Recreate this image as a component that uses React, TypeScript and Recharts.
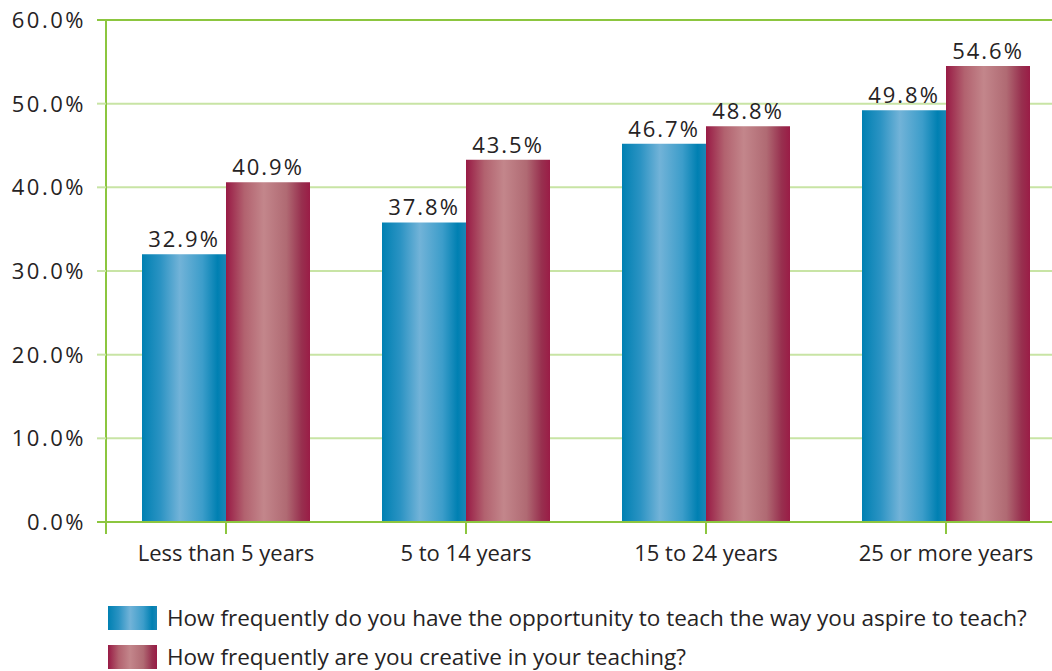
import { Bar, BarChart, CartesianGrid, LabelList, ReferenceLine, XAxis, YAxis } from 'recharts'

const categories = ['Less than 5 years', '5 to 14 years', '15 to 24 years', '25 or more years']
// bar heights as drawn in the picture (the printed labels differ slightly)
const aspireValues = [32.0, 35.8, 45.2, 49.2]
const creativeValues = [40.6, 43.3, 47.3, 54.5]
const aspireLabels = ['32.9%', '37.8%', '46.7%', '49.8%']
const creativeLabels = ['40.9%', '43.5%', '48.8%', '54.6%']
const yTicks = [0, 10, 20, 30, 40, 50, 60]
const seriesNames = [
  'How frequently do you have the opportunity to teach the way you aspire to teach?',
  'How frequently are you creative in your teaching?',
]

const FONT = '"Open Sans", sans-serif'
const TEXT = '#262324'
const DARK_GREEN = '#8cc63f'
const LIGHT_GREEN = '#c8e4a5'

const data = categories.map((c, i) => ({
  name: c,
  aspire: aspireValues[i],
  creative: creativeValues[i],
  aspireLabel: aspireLabels[i],
  creativeLabel: creativeLabels[i],
}))

const blueCss =
  'linear-gradient(to right, #0080b2 0%, #2b93c3 22%, #72b3d8 45%, #3c9dca 72%, #0080b2 90%, #1a86b6 100%)'
const redCss =
  'linear-gradient(to right, #981a45 0%, #b2626f 22%, #c3868b 45%, #b06a73 72%, #98304f 90%, #9a1c46 100%)'

function YTick(props: any) {
  const { x, y, payload } = props
  const v = payload.value as number
  const edge = v === 0 || v === 60
  return (
    <g>
      <line x1={x + 13} x2={x + 22} y1={y} y2={y} stroke={edge ? DARK_GREEN : LIGHT_GREEN} strokeWidth={2} />
      <text
        x={x + 2}
        y={y}
        dy={8}
        textAnchor="end"
        fill={TEXT}
        fontSize={22}
        letterSpacing={2.5}
        fontFamily={FONT}
      >
        {v.toFixed(1)}%
      </text>
    </g>
  )
}

function XTick(props: any) {
  const { x, y, payload, index } = props
  const half = payload?.offset ?? 120
  return (
    <g>
      {index === 0 && (
        <line x1={x - half} x2={x - half} y1={y - 18} y2={y - 6} stroke={DARK_GREEN} strokeWidth={2} />
      )}
      <text x={x} y={y} dy={21} textAnchor="middle" fill={TEXT} fontSize={22} fontFamily={FONT}>
        {payload.value}
      </text>
    </g>
  )
}

export default function App() {
  return (
    <div
      style={{
        position: 'absolute',
        left: 0,
        top: 0,
        width: 1052,
        height: 671,
        overflow: 'hidden',
        background: '#fff',
        fontFamily: FONT,
      }}
    >
      <BarChart
        width={1066}
        height={600}
        data={data}
        margin={{ top: 20, right: 0, left: 0, bottom: 40 }}
        barCategoryGap="15%"
        barGap={0}
      >
        <defs>
          <linearGradient id="blueGrad" x1="0" y1="0" x2="1" y2="0">
            <stop offset="0%" stopColor="#0080b2" />
            <stop offset="22%" stopColor="#2b93c3" />
            <stop offset="45%" stopColor="#72b3d8" />
            <stop offset="72%" stopColor="#3c9dca" />
            <stop offset="90%" stopColor="#0080b2" />
            <stop offset="100%" stopColor="#1a86b6" />
          </linearGradient>
          <linearGradient id="redGrad" x1="0" y1="0" x2="1" y2="0">
            <stop offset="0%" stopColor="#981a45" />
            <stop offset="22%" stopColor="#b2626f" />
            <stop offset="45%" stopColor="#c3868b" />
            <stop offset="72%" stopColor="#b06a73" />
            <stop offset="90%" stopColor="#98304f" />
            <stop offset="100%" stopColor="#9a1c46" />
          </linearGradient>
        </defs>
        <CartesianGrid vertical={false} stroke={LIGHT_GREEN} strokeWidth={2} />
        <XAxis
          dataKey="name"
          height={38}
          tickSize={12}
          tickMargin={6}
          axisLine={{ stroke: DARK_GREEN, strokeWidth: 2 }}
          tickLine={{ stroke: DARK_GREEN, strokeWidth: 2 }}
          tick={<XTick />}
        />
        <YAxis
          width={106}
          domain={[0, 60]}
          ticks={yTicks}
          tickSize={9}
          tickMargin={13}
          tickLine={false}
          axisLine={{ stroke: DARK_GREEN, strokeWidth: 2 }}
          tick={<YTick />}
        />
        <ReferenceLine y={60} stroke={DARK_GREEN} strokeWidth={2} />
        <Bar dataKey="aspire" fill="url(#blueGrad)" isAnimationActive={false}>
          <LabelList
            dataKey="aspireLabel"
            position="top"
            offset={7}
            fill={TEXT}
            fontSize={22}
            letterSpacing={2}
            fontFamily={FONT}
          />
        </Bar>
        <Bar dataKey="creative" fill="url(#redGrad)" isAnimationActive={false}>
          <LabelList
            dataKey="creativeLabel"
            position="top"
            offset={7}
            fill={TEXT}
            fontSize={22}
            letterSpacing={2}
            fontFamily={FONT}
          />
        </Bar>
      </BarChart>
      <div style={{ position: 'absolute', left: 108, top: 606 }}>
        {seriesNames.map((n, i) => (
          <div key={n} style={{ display: 'flex', alignItems: 'center', height: 24, marginBottom: 15 }}>
            <div style={{ width: 49, height: 24, background: i === 0 ? blueCss : redCss, marginRight: 10 }} />
            <span style={{ fontSize: 22.5, lineHeight: '24px', color: TEXT, whiteSpace: 'nowrap' }}>{n}</span>
          </div>
        ))}
      </div>
    </div>
  )
}
